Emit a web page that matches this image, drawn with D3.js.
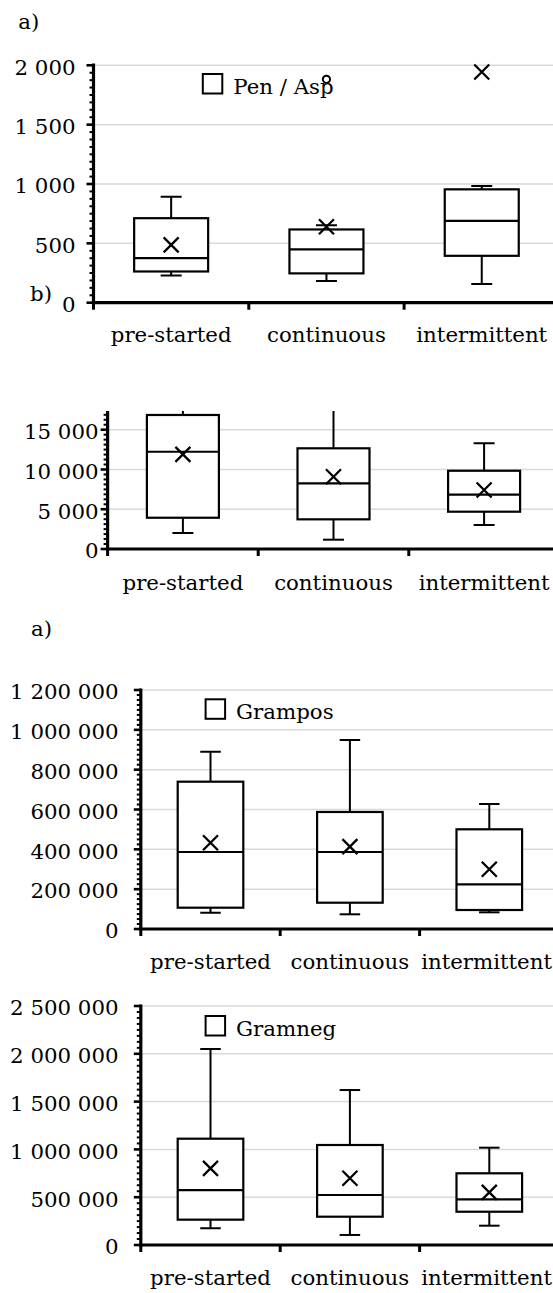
<!DOCTYPE html>
<html>
<head>
<meta charset="utf-8">
<script src="https://cdn.jsdelivr.net/npm/d3@7"></script>
<style>
  html, body { margin: 0; padding: 0; background: #fff; }
  svg { display: block; }
  text { font-family: "DejaVu Serif", serif; fill: #000; }
</style>
</head>
<body>
<svg id="chart" width="553" height="1293"></svg>
<script>
// ---------------- DATA ----------------
const categories = ["pre-started", "continuous", "intermittent"];

// Panel a) Pen / Asp
const penMin    = [229, 182, 157];
const penQ1     = [263, 247, 395];
const penMedian = [376, 449, 689];
const penQ3     = [712, 617, 955];
const penMax    = [893, 653, 983];
const penMean   = [487, 640, 1944];
const penOutlierCats   = ["continuous"];
const penOutlierValues = [1882];
const penTicks  = [0, 500, 1000, 1500, 2000];

// Panel b) (no legend)
const bMin    = [2010, 1170, 3020];
const bQ1     = [3930, 3730, 4690];
const bMedian = [12230, 8260, 6830];
const bQ3     = [16850, 12660, 9840];
const bMax    = [18000, 19000, 13290];
const bMean   = [11900, 9090, 7420];
const bTicks  = [0, 5000, 10000, 15000];

// Panel a) Grampos
const gpMin    = [81800, 73800, 83700];
const gpQ1     = [107000, 132000, 95400];
const gpMedian = [386600, 386600, 224400];
const gpQ3     = [739600, 587500, 500600];
const gpMax    = [890300, 949000, 627700];
const gpMean   = [433300, 413300, 299700];
const gpTicks  = [0, 200000, 400000, 600000, 800000, 1000000, 1200000];

// Panel Gramneg
const gnMin    = [175000, 105000, 202000];
const gnQ1     = [265000, 296000, 348000];
const gnMedian = [575000, 523000, 478000];
const gnQ3     = [1112000, 1046000, 750000];
const gnMax    = [2050000, 1621000, 1018000];
const gnMean   = [802000, 698000, 551000];
const gnTicks  = [0, 500000, 1000000, 1500000, 2000000, 2500000];

// ---------------- LAYOUT ----------------
const W = 553;
const FS = 21.3;
const fmt = d3.formatLocale({decimal: ".", thousands: " ", grouping: [3], currency: ["", ""]}).format(",d");
const svg = d3.select("#chart");

const panels = [
  { min: penMin, q1: penQ1, med: penMedian, q3: penQ3, max: penMax, mean: penMean,
    outCats: penOutlierCats, outVals: penOutlierValues, ticks: penTicks,
    axisX: 93.5, y0: 302.7, yTopVal: 2000, yTopPix: 65.3, axisTop: 63.5,
    catW: 155.3, boxW: 74, capW: 21, labelRight: 75.5, catBaseline: 342,
    legend: { x: 202.8, y: 74, text: "Pen / Asp" } },
  { min: bMin, q1: bQ1, med: bMedian, q3: bQ3, max: bMax, mean: bMean,
    outCats: [], outVals: [], ticks: bTicks,
    axisX: 107.6, y0: 549, yTopVal: 15000, yTopPix: 429.7, axisTop: 411,
    catW: 150.6, boxW: 72, capW: 21, labelRight: 98.5, catBaseline: 590,
    legend: null },
  { min: gpMin, q1: gpQ1, med: gpMedian, q3: gpQ3, max: gpMax, mean: gpMean,
    outCats: [], outVals: [], ticks: gpTicks,
    axisX: 140.8, y0: 929, yTopVal: 1200000, yTopPix: 690, axisTop: 688.5,
    catW: 139.4, boxW: 65.6, capW: 20.5, labelRight: 118.5, catBaseline: 969,
    legend: { x: 205.6, y: 699.3, text: "Grampos" } },
  { min: gnMin, q1: gnQ1, med: gnMedian, q3: gnQ3, max: gnMax, mean: gnMean,
    outCats: [], outVals: [], ticks: gnTicks,
    axisX: 140.8, y0: 1245, yTopVal: 2500000, yTopPix: 1006, axisTop: 1004.5,
    catW: 139.4, boxW: 65.6, capW: 20.5, labelRight: 118.5, catBaseline: 1285,
    legend: { x: 205.6, y: 1016, text: "Gramneg" } }
];

// panel tags
svg.append("text").attr("x", 18.3).attr("y", 29).attr("font-size", FS).text("a)");
svg.append("text").attr("x", 30).attr("y", 301).attr("font-size", FS).text("b)");
svg.append("text").attr("x", 31).attr("y", 636).attr("font-size", FS).text("a)");

panels.forEach((p, pi) => {
  const g = svg.append("g");
  const y = d3.scaleLinear().domain([0, p.yTopVal]).range([p.y0, p.yTopPix]);
  const x = d3.scaleBand().domain(categories).range([p.axisX, p.axisX + 3 * p.catW]).padding(0);
  const cx = c => x(c) + x.bandwidth() / 2;

  const clipId = "clip" + pi;
  svg.append("clipPath").attr("id", clipId).append("rect")
    .attr("x", p.axisX).attr("y", p.axisTop).attr("width", W - p.axisX).attr("height", p.y0 - p.axisTop);

  // gridlines
  g.selectAll(".grid").data(p.ticks.filter(t => t > 0)).join("line")
    .attr("x1", p.axisX).attr("x2", W)
    .attr("y1", d => y(d)).attr("y2", d => y(d))
    .attr("stroke", "#d9d9d9").attr("stroke-width", 1.5);

  const plot = g.append("g").attr("clip-path", `url(#${clipId})`);

  categories.forEach((c, i) => {
    const xc = cx(c);
    plot.append("line").attr("x1", xc).attr("x2", xc)
      .attr("y1", y(p.q3[i])).attr("y2", y(p.max[i]))
      .attr("stroke", "#000").attr("stroke-width", 2);
    plot.append("line").attr("x1", xc).attr("x2", xc)
      .attr("y1", y(p.q1[i])).attr("y2", y(p.min[i]))
      .attr("stroke", "#000").attr("stroke-width", 2);
    [p.max[i], p.min[i]].forEach(v => {
      plot.append("line").attr("x1", xc - p.capW / 2).attr("x2", xc + p.capW / 2)
        .attr("y1", y(v)).attr("y2", y(v))
        .attr("stroke", "#000").attr("stroke-width", 2);
    });
    plot.append("rect")
      .attr("x", xc - p.boxW / 2).attr("width", p.boxW)
      .attr("y", y(p.q3[i])).attr("height", y(p.q1[i]) - y(p.q3[i]))
      .attr("fill", "#fff").attr("stroke", "#000").attr("stroke-width", 2.2);
    plot.append("line").attr("x1", xc - p.boxW / 2).attr("x2", xc + p.boxW / 2)
      .attr("y1", y(p.med[i])).attr("y2", y(p.med[i]))
      .attr("stroke", "#000").attr("stroke-width", 2.2);
  });

  if (p.legend) {
    svg.append("rect").attr("x", p.legend.x).attr("y", p.legend.y)
      .attr("width", 19.5).attr("height", 19.5)
      .attr("fill", "#fff").attr("stroke", "#000").attr("stroke-width", 2);
    svg.append("text").attr("x", p.legend.x + 30.5).attr("y", p.legend.y + 19.5)
      .attr("font-size", FS).text(p.legend.text);
  }

  const ms = 7.5;
  categories.forEach((c, i) => {
    const xc = cx(c), yc = y(p.mean[i]);
    svg.append("path")
      .attr("d", `M${xc - ms},${yc - ms}L${xc + ms},${yc + ms}M${xc - ms},${yc + ms}L${xc + ms},${yc - ms}`)
      .attr("stroke", "#000").attr("stroke-width", 2.3).attr("fill", "none");
  });

  p.outCats.forEach((c, k) => {
    svg.append("circle").attr("cx", cx(c)).attr("cy", y(p.outVals[k])).attr("r", 3.6)
      .attr("fill", "#fff").attr("stroke", "#000").attr("stroke-width", 2);
  });

  // minor ticks
  const step = p.ticks[1] - p.ticks[0];
  const topVal = y.invert(p.axisTop);
  const minor = d3.range(0, topVal, step / 8).filter(v => Math.abs(v / step - Math.round(v / step)) > 1e-6);
  g.selectAll(".minor").data(minor).join("line")
    .attr("x1", p.axisX - 4).attr("x2", p.axisX)
    .attr("y1", d => y(d)).attr("y2", d => y(d))
    .attr("stroke", "#000").attr("stroke-width", 2);

  g.selectAll(".major").data(p.ticks).join("line")
    .attr("x1", p.axisX - 7).attr("x2", p.axisX)
    .attr("y1", d => y(d)).attr("y2", d => y(d))
    .attr("stroke", "#000").attr("stroke-width", 2.6);

  g.selectAll(".ylab").data(p.ticks).join("text")
    .attr("x", p.labelRight).attr("y", d => y(d) + 9.3)
    .attr("text-anchor", "end").attr("font-size", FS)
    .text(d => fmt(d));

  g.append("line").attr("x1", p.axisX).attr("x2", p.axisX)
    .attr("y1", p.axisTop).attr("y2", p.y0 + 1.5)
    .attr("stroke", "#000").attr("stroke-width", 3.2);

  g.append("line").attr("x1", p.axisX - 1.6).attr("x2", W)
    .attr("y1", p.y0).attr("y2", p.y0)
    .attr("stroke", "#000").attr("stroke-width", 3.2);

  const bounds = categories.map(c => x(c) + x.bandwidth()).concat([x(categories[0])]);
  g.selectAll(".xt").data(bounds).join("line")
    .attr("x1", d => d).attr("x2", d => d)
    .attr("y1", p.y0).attr("y2", p.y0 + 7)
    .attr("stroke", "#000").attr("stroke-width", 3);

  // category labels, kept inside the picture
  g.selectAll(".xlab").data(categories).join("text")
    .attr("y", p.catBaseline)
    .attr("text-anchor", "middle").attr("font-size", FS)
    .text(d => d)
    .each(function(d) {
      const w = this.getComputedTextLength();
      let xc = cx(d);
      if (xc + w / 2 > W - 1) xc = W - 1 - w / 2;
      d3.select(this).attr("x", xc);
    });
});
</script>
</body>
</html>
